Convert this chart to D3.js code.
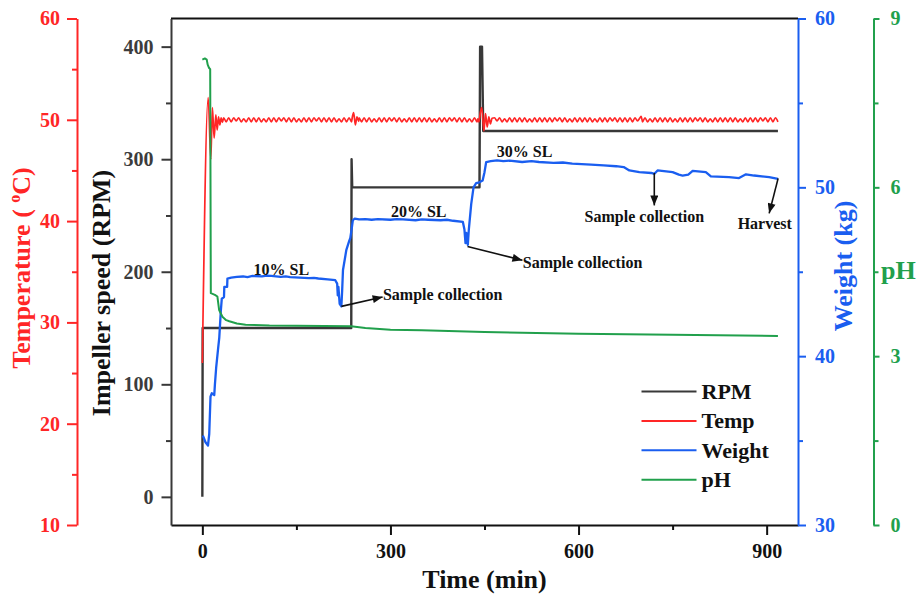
<!DOCTYPE html>
<html>
<head>
<meta charset="utf-8">
<script src="https://cdn.jsdelivr.net/npm/d3@7"></script>
<style>
  body { margin: 0; background: #fff; }
  text { font-family: "Liberation Serif", "Times New Roman", serif; font-weight: bold; }
</style>
</head>
<body>
<svg id="chart" width="919" height="595"></svg>
<script>
// ---- data ----
const timeTicks = [0, 300, 600, 900];
const timeMinor = [150, 450, 750];
const rpmTicks = [0, 100, 200, 300, 400];
const rpmMinor = [50, 150, 250, 350];
const tempTicks = [10, 20, 30, 40, 50, 60];
const tempMinor = [15, 25, 35, 45, 55];
const weightTicks = [30, 40, 50, 60];
const weightMinor = [35, 45, 55];
const phTicks = [0, 3, 6, 9];
const phMinor = [1.5, 4.5, 7.5];

// impeller speed set points [min, RPM]
const rpmSeries = [[0, 0], [0.5, 150], [237.5, 150], [238, 300], [239, 275],
  [442, 275], [443, 400], [446, 400], [448, 325], [918, 325]];

// temperature: heat-up transient [min, °C]
const tempStartup = [[0, 26.0], [9.3, 52.2], [13.5, 46.1], [16, 51.2], [18.8, 48.2],
  [21.5, 50.5], [23.6, 49.0], [25.8, 50.3], [27.9, 49.5], [30, 50.2], [32, 49.75]];
// temperature under control, logged every 4 min from t = 34 min
const tempSteadyStart = 34, tempSteadyStep = 4;
const tempSteady = [
  50.2,49.8,50.2,49.8,50.2,49.9,50.2,49.8,50.1,49.8,50.2,49.8,50.2,49.8,50.2,49.8,50.1,49.8,50.2,49.8,
  50.2,49.8,50.2,49.9,50.2,49.8,50.2,49.8,50.2,49.8,50.1,49.8,50.2,49.8,50.2,49.8,50.2,49.9,50.2,49.8,
  50.2,49.8,50.2,49.8,50.2,49.8,50.1,49.8,50.2,49.8,50.2,49.8,50.2,49.8,50.2,49.8,50.2,49.8,50.2,49.8,
  50.1,49.8,50.2,49.8,50.2,49.8,50.2,49.9,50.2,49.8,50.2,49.8,50.1,49.8,50.2,49.8,50.2,49.8,50.2,49.8,
  50.2,49.8,50.2,49.8,50.1,49.8,50.2,49.8,50.2,49.8,50.2,49.9,50.2,49.8,50.2,49.8,50.2,49.8,50.1,49.8,
  50.2,49.8,50.2,49.8,50.2,49.8,50.2,49.8,50.2,49.9,50.2,49.8,50.1,49.8,50.2,49.8,50.2,49.8,50.2,49.8,
  50.2,49.8,50.1,49.8,50.2,49.8,50.2,49.8,50.2,49.8,50.2,49.8,50.2,49.9,50.2,49.8,50.2,49.8,50.1,49.8,
  50.2,49.8,50.2,49.8,50.2,49.8,50.2,49.8,50.1,49.8,50.2,49.8,50.2,49.8,50.2,49.9,50.2,49.8,50.2,49.8,
  50.2,49.8,50.2,49.8,50.2,49.9,50.2,49.8,50.2,49.8,50.1,49.8,50.2,49.8,50.2,49.8,50.2,49.8,50.2,49.8,
  50.1,49.8,50.2,49.8,50.2,49.8,50.2,49.8,50.2,49.9,50.2,49.8,50.2,49.8,50.1,49.8,50.2,49.8,50.2,49.8,
  50.2,49.8,50.2,49.8,50.2,49.8,50.1,49.8,50.2,49.8,50.2,49.8,50.2,49.8,50.2,49.9,50.2,49.8,50.2,49.8,
  50.2,49.8];
// temperature disturbances when the impeller speed was changed [min, °C]
const tempEvents = [
  [[239, 50.2], [241.3, 50.7], [244, 49.5], [246.6, 50.3], [249.3, 49.85]],
  [[439.4, 50.1], [441, 49.8], [443.6, 50.8], [445.7, 51.2], [449, 48.9], [451.6, 50.6],
   [454.3, 49.3], [456.9, 50.3], [459.5, 49.6], [462, 50.15]],
  [[700, 50.35]]
];

// reactor weight [min, kg]
const weightSeries = [[0.8, 35.3], [5, 34.9], [9, 34.7], [11, 35.4], [13, 37.6], [15, 37.8],
  [19, 37.7], [20, 38.3], [22, 39.3], [25, 40.4], [27, 41.1], [29.5, 42.7], [31, 43.4],
  [34.5, 43.5], [35, 44.1], [39.5, 44.1], [40, 44.6], [46, 44.65], [55, 44.7], [65, 44.72],
  [72, 44.68], [80, 44.75], [95, 44.73], [103, 44.77], [110, 44.75], [125, 44.7], [133, 44.72],
  [140, 44.68], [155, 44.65], [170, 44.62], [178, 44.64], [185, 44.6], [200, 44.55], [212, 44.5],
  [215, 44.3], [216, 43.6], [217, 44.1], [219, 43.1], [221.7, 42.95], [223, 43.9], [224.3, 45.1],
  [229.7, 46.3], [234, 46.8], [236, 47.0], [238, 47.5], [240, 48.05], [243, 48.15], [250, 48.1],
  [260, 48.12], [270, 48.08], [280, 48.12], [300, 48.08], [310, 48.12], [320, 48.1], [340, 48.05],
  [350, 48.1], [360, 48.08], [380, 48.05], [390, 48.08], [400, 48.02], [415.5, 47.95], [418, 47.5],
  [419.7, 46.7], [421, 47.3], [423.4, 46.6], [425, 47.5], [428.8, 49.0], [432.5, 50.0],
  [436.7, 50.25], [442, 50.3], [447, 50.4], [450, 50.9], [452.7, 51.5], [460, 51.55], [470, 51.6],
  [480, 51.55], [490, 51.58], [510, 51.5], [525, 51.55], [537, 51.5], [560, 51.45], [575, 51.47],
  [590, 51.4], [620, 51.35], [640, 51.3], [660, 51.25], [672, 51.2], [681, 51.0], [697, 50.9],
  [716, 50.85], [721, 50.8], [726, 51.0], [750, 50.9], [760, 50.75], [766, 50.7], [775, 50.75],
  [782, 50.97], [803, 50.9], [811, 50.65], [840, 50.6], [856, 50.55], [867, 50.77], [880, 50.7],
  [904, 50.6], [918, 50.5]];

// pH [min, pH]
const phSeries = [[0, 8.27], [4, 8.29], [7, 8.27], [8.5, 8.18], [10.8, 8.12], [12.5, 8.10],
  [13.5, 4.12], [20, 4.09], [24, 4.06], [26.8, 3.82], [32, 3.70], [38, 3.64], [43, 3.62],
  [55, 3.58], [69, 3.56], [107, 3.545], [150, 3.54], [237, 3.53], [260, 3.50], [300, 3.47],
  [350, 3.46], [450, 3.43], [600, 3.40], [750, 3.38], [918, 3.36]];

const legendLabels = ["RPM", "Temp", "Weight", "pH"];

// notes placed in (time, weight) units
const notes = [
  { text: "10% SL", t: 126, w: 44.79, anchor: "middle" },
  { text: "20% SL", t: 345, w: 48.24, anchor: "middle" },
  { text: "30% SL", t: 514, w: 51.79, anchor: "middle" },
  { text: "Sample collection", t: 288, w: 43.31, anchor: "start" },
  { text: "Sample collection", t: 511, w: 45.21, anchor: "start" },
  { text: "Sample collection", t: 705, w: 47.95, anchor: "middle" },
  { text: "Harvest", t: 897, w: 47.56, anchor: "middle" }
];
const pointers = [
  { from: [221.7, 42.95], to: [287.5, 43.51] },
  { from: [422.9, 46.5], to: [510.5, 45.68] },
  { from: [720.8, 50.85], to: [720.8, 48.93] },
  { from: [918.3, 50.53], to: [904, 48.46] }
];

// ---- layout & styles ----
const C = { rpm: "#383838", temp: "#ff2626", weight: "#1a5ef0", ph: "#21a04c", ink: "#111" };
const P = { left: 171, right: 798, top: 18.5, bottom: 525 };

const svg = d3.select("#chart");

const x = d3.scaleLinear().domain([-50, 950]).range([P.left, P.right]);
const yRpm = d3.scaleLinear().domain([-25, 425]).range([P.bottom, P.top]);
const yTemp = d3.scaleLinear().domain([10, 60]).range([P.bottom, P.top]);
const yW = d3.scaleLinear().domain([30, 60]).range([P.bottom, P.top]);
const yPh = d3.scaleLinear().domain([0, 9]).range([P.bottom, P.top]);

// axis helper: major ticks with labels, minor ticks without
function drawAxis(gen, scale, major, minor, pos, color, textColor, size, minorSize, pad) {
  const g = svg.append("g").attr("transform", pos);
  g.call(gen(scale).tickValues(major).tickSize(size).tickSizeOuter(0).tickPadding(pad)
    .tickFormat(d3.format("d")));
  g.append("g").call(gen(scale).tickValues(minor).tickSize(minorSize).tickSizeOuter(0).tickFormat(""))
    .select(".domain").remove();
  g.selectAll("path.domain").attr("stroke", color).attr("stroke-width", 2);
  g.selectAll(".tick line").attr("stroke", color).attr("stroke-width", 2);
  g.selectAll(".tick text").attr("fill", textColor).style("font-size", "20px")
    .style("font-family", '"Liberation Serif", "Times New Roman", serif').style("font-weight", "bold");
  return g;
}

// frame top edge
svg.append("line").attr("x1", P.left).attr("x2", P.right).attr("y1", P.top).attr("y2", P.top)
  .attr("stroke", C.ink).attr("stroke-width", 2);

drawAxis(d3.axisBottom, x, timeTicks, timeMinor, `translate(0,${P.bottom})`, C.ink, C.ink, 10, 5, 9);
drawAxis(d3.axisLeft, yRpm, rpmTicks, rpmMinor, `translate(${P.left},0)`, C.rpm, "#3c3c3c", 9.5, 5, 8);
drawAxis(d3.axisLeft, yTemp, tempTicks, tempMinor, `translate(77,0)`, C.temp, C.temp, 10, 5, 7);
drawAxis(d3.axisRight, yW, weightTicks, weightMinor, `translate(${P.right},0)`, C.weight, C.weight, 8, 5, 9);
drawAxis(d3.axisRight, yPh, phTicks, phMinor, `translate(873.5,0)`, C.ph, C.ph, 6, 5, 11);

// ---- series ----
const tempSeries = tempStartup
  .concat(tempSteady.map((v, i) => [tempSteadyStart + i * tempSteadyStep, v])
    .filter(p => !tempEvents.some(ev => p[0] >= ev[0][0] && p[0] <= ev[ev.length - 1][0])))
  .concat(tempEvents.flat())
  .sort((a, b) => a[0] - b[0]);

const plotG = svg.append("g");
function drawLine(data, yScale, color, width, curve) {
  plotG.append("path").datum(data)
    .attr("fill", "none").attr("stroke", color).attr("stroke-width", width)
    .attr("stroke-linejoin", "round")
    .attr("d", d3.line().curve(curve || d3.curveLinear).x(d => x(d[0])).y(d => yScale(d[1])));
}
drawLine(rpmSeries, yRpm, C.rpm, 2.4);
drawLine(tempSeries, yTemp, C.temp, 1.7, d3.curveMonotoneX);
drawLine(weightSeries, yW, C.weight, 2.3);
drawLine(phSeries, yPh, C.ph, 2);

// ---- annotations ----
svg.append("defs").append("marker").attr("id", "head")
  .attr("viewBox", "0 0 10 8").attr("refX", 10).attr("refY", 4)
  .attr("markerWidth", 11).attr("markerHeight", 8).attr("markerUnits", "userSpaceOnUse")
  .attr("orient", "auto")
  .append("path").attr("d", "M0,0 L10,4 L0,8 Z").attr("fill", C.ink);

svg.append("g").selectAll("line").data(pointers).join("line")
  .attr("x1", d => x(d.from[0])).attr("y1", d => yW(d.from[1]))
  .attr("x2", d => x(d.to[0])).attr("y2", d => yW(d.to[1]))
  .attr("stroke", C.ink).attr("stroke-width", 1.6).attr("marker-end", "url(#head)");

svg.append("g").selectAll("text").data(notes).join("text")
  .attr("x", d => x(d.t)).attr("y", d => yW(d.w))
  .attr("text-anchor", d => d.anchor).attr("fill", C.ink)
  .style("font-size", "16px").text(d => d.text);

// ---- axis titles ----
const tT = svg.append("text").attr("transform", "translate(29.5,268) rotate(-90)")
  .attr("text-anchor", "middle").attr("fill", C.temp).style("font-size", "26px");
tT.append("tspan").text("Temperature ( ");
tT.append("tspan").attr("dy", -10).style("font-size", "16px").text("o");
tT.append("tspan").attr("dy", 10).text("C)");

svg.append("text").attr("transform", "translate(110,293) rotate(-90)")
  .attr("text-anchor", "middle").attr("fill", C.ink).style("font-size", "26px")
  .text("Impeller speed (RPM)");

svg.append("text").attr("transform", "translate(851.5,266) rotate(-90)")
  .attr("text-anchor", "middle").attr("fill", C.weight).style("font-size", "26px")
  .text("Weight (kg)");

svg.append("text").attr("x", 881).attr("y", 279).attr("fill", C.ph)
  .style("font-size", "26px").text("pH");

svg.append("text").attr("x", (P.left + P.right) / 2).attr("y", 588)
  .attr("text-anchor", "middle").attr("fill", C.ink).style("font-size", "26px")
  .text("Time (min)");

// ---- legend ----
const legendColors = [C.rpm, C.temp, C.weight, C.ph];
const leg = svg.append("g").attr("transform", "translate(641.5,391.5)");
const rows = leg.selectAll("g").data(legendLabels).join("g")
  .attr("transform", (d, i) => `translate(0,${i * 29.4})`);
rows.append("line").attr("x1", 0).attr("x2", 55).attr("y1", 0).attr("y2", 0)
  .attr("stroke", (d, i) => legendColors[i]).attr("stroke-width", 2);
rows.append("text").attr("x", 60).attr("y", 7.5).attr("fill", C.ink)
  .style("font-size", "22px").text(d => d);
</script>
</body>
</html>
